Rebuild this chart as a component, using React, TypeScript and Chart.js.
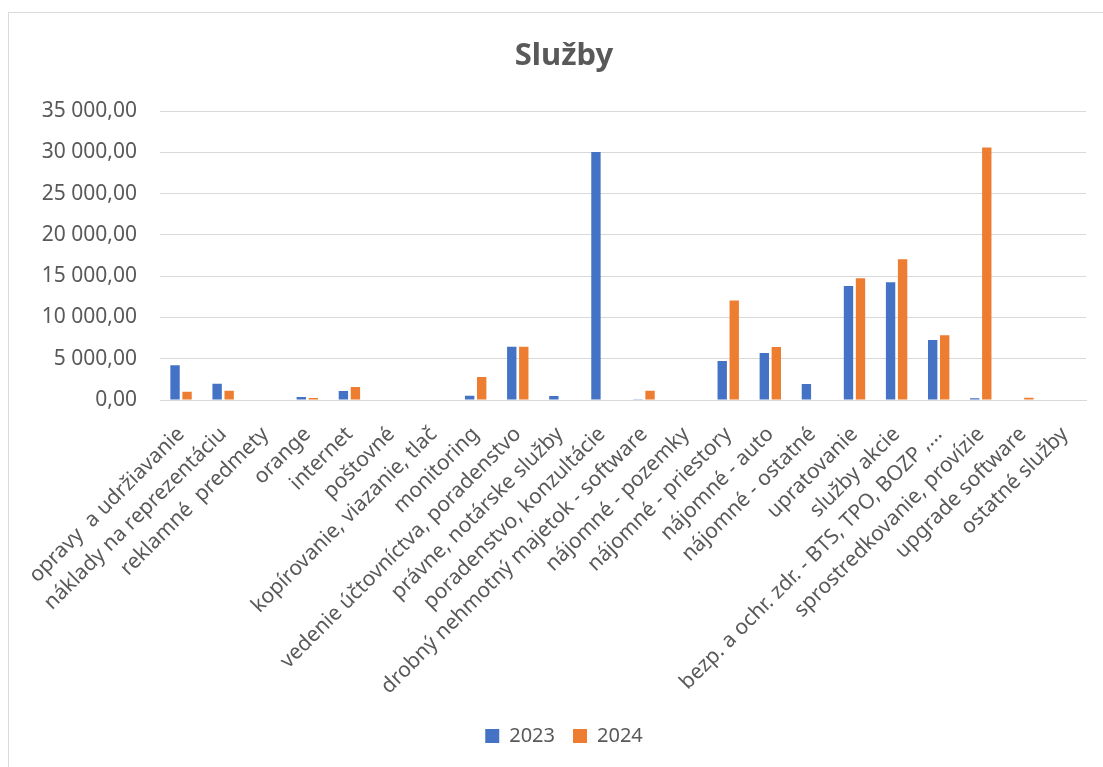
import React, { useEffect, useRef } from "react";
import { Chart, registerables } from "chart.js";

Chart.register(...registerables);

const categories: string[] = [
  "opravy  a udržiavanie",
  "náklady na reprezentáciu",
  "reklamné  predmety",
  "orange",
  "internet",
  "poštovné",
  "kopírovanie, viazanie, tlač",
  "monitoring",
  "vedenie účtovníctva, poradenstvo",
  "právne, notárske služby",
  "poradenstvo, konzultácie",
  "drobný nehmotný majetok - software",
  "nájomné - pozemky",
  "nájomné - priestory",
  "nájomné - auto",
  "nájomné - ostatné",
  "upratovanie",
  "služby akcie",
  "bezp. a ochr. zdr. - BTS, TPO, BOZP ,...",
  "sprostredkovanie, provízie",
  "upgrade software",
  "ostatné služby",
];

const values2023: number[] = [
  4200, 1970, 0, 360, 1090, 0, 0, 520, 6450, 480, 30070, 100, 0, 4720, 5700,
  1930, 13830, 14280, 7260, 200, 0, 0,
];

const values2024: number[] = [
  1000, 1130, 50, 240, 1570, 0, 0, 2780, 6450, 0, 0, 1130, 50, 12060, 6410, 0,
  14760, 17060, 7860, 30610, 280, 0,
];

const seriesNames: string[] = ["2023", "2024"];
const yTicks: number[] = [0, 5000, 10000, 15000, 20000, 25000, 30000, 35000];
const chartTitle = "Služby";

function formatNumber(v: number): string {
  const fixed = Math.abs(v).toFixed(2);
  const [intPart, dec] = fixed.split(".");
  const withSpaces = intPart.replace(/\B(?=(\d{3})+(?!\d))/g, " ");
  return (v < 0 ? "-" : "") + withSpaces + "," + dec;
}

const FONT = "'Noto Sans', 'Open Sans', sans-serif";
const TEXT = "#595959";
const GRID = "#d9d9d9";

export default function App() {
  const ref = useRef<HTMLCanvasElement | null>(null);

  useEffect(() => {
    if (!ref.current) return;
    const chart = new Chart(ref.current, {
      type: "bar",
      data: {
        labels: categories,
        datasets: [
          {
            label: seriesNames[0],
            data: values2023,
            backgroundColor: "#4472C4",
            categoryPercentage: 0.571,
            barPercentage: 0.78,
            yAxisID: "y",
          },
          {
            label: seriesNames[1],
            data: values2024,
            backgroundColor: "#ED7D31",
            categoryPercentage: 0.571,
            barPercentage: 0.78,
            yAxisID: "y",
          },
        ],
      },
      options: {
        responsive: false,
        animation: false,
        devicePixelRatio: 1,
        layout: { padding: { left: 0, right: 0, top: 0, bottom: 11 } },
        plugins: {
          title: {
            display: true,
            text: chartTitle,
            color: TEXT,
            font: { family: FONT, size: 31, weight: "bold" },
            padding: { top: 25, bottom: 36 },
          },
          legend: {
            position: "bottom",
            labels: {
              boxWidth: 14,
              boxHeight: 14,
              padding: 18,
              color: TEXT,
              font: { family: FONT, size: 20 },
            },
          },
          tooltip: { enabled: false },
        },
        scales: {
          x: {
            grid: { display: false, drawTicks: false },
            border: { display: true, color: GRID, width: 1 },
            ticks: {
              autoSkip: false,
              maxRotation: 45,
              minRotation: 45,
              padding: 22,
              color: TEXT,
              font: { family: FONT, size: 21 },
            },
            afterFit: (scale: any) => {
              scale.height = 308;
              scale.paddingLeft = 0;
              scale.paddingRight = 0;
            },
          },
          y: {
            min: 0,
            max: 35000,
            afterBuildTicks: (scale: any) => {
              scale.ticks = yTicks.map((v) => ({ value: v }));
            },
            grid: { color: GRID, lineWidth: 1, drawTicks: false },
            border: { display: false },
            ticks: {
              padding: 23,
              color: TEXT,
              font: { family: FONT, size: 21 },
              callback: (v: any) => formatNumber(Number(v)),
            },
            afterFit: (scale: any) => {
              scale.width = 151;
              scale.paddingTop = 0;
              scale.paddingBottom = 0;
            },
          },
          yRight: {
            type: "linear",
            position: "right",
            display: true,
            grid: { display: false, drawTicks: false },
            border: { display: false },
            ticks: { display: false },
            afterFit: (scale: any) => {
              scale.width = 33;
              scale.paddingTop = 0;
              scale.paddingBottom = 0;
            },
          },
        },
      },
    });
    return () => chart.destroy();
  }, []);

  return (
    <div
      style={{
        position: "fixed",
        left: 8,
        top: 12,
        width: 1095,
        height: 755,
        borderTop: "1px solid #d9d9d9",
        borderLeft: "1px solid #d9d9d9",
        overflow: "hidden",
        background: "#fff",
      }}
    >
      <canvas
        ref={ref}
        width={1110}
        height={754}
        style={{ display: "block", width: 1110, height: 754 }}
      />
    </div>
  );
}
